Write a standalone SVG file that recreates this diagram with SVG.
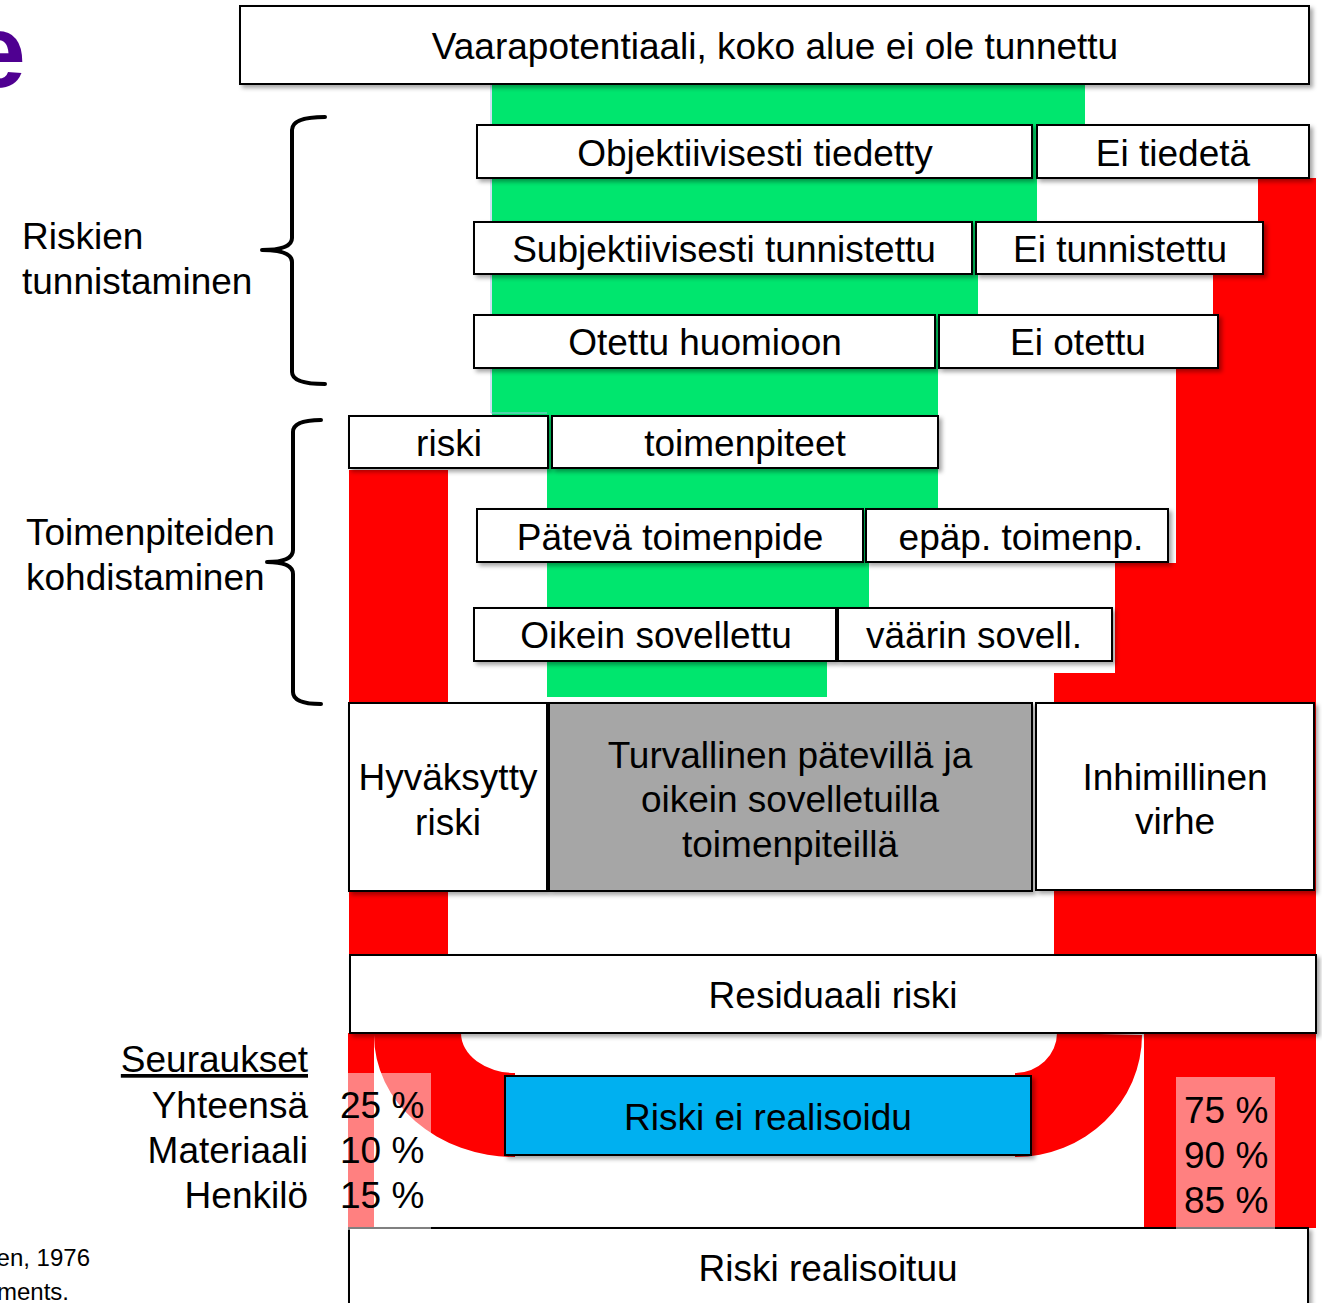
<svg xmlns="http://www.w3.org/2000/svg" width="1322" height="1303" viewBox="0 0 1322 1303">
<defs>
<filter id="sh" x="-5%" y="-10%" width="115%" height="130%">
<feDropShadow dx="3" dy="3" stdDeviation="2" flood-color="#000" flood-opacity="0.35"/>
</filter>
<style>
text{font-family:"Liberation Sans",Arial,sans-serif;font-size:37px;fill:#000}
.c{text-anchor:middle}
.e{text-anchor:end}
.box{fill:#fff;stroke:#000;stroke-width:2;filter:url(#sh)}
.red{fill:#ff0000}
.grn{fill:#00e66e}
.pink{fill:#fff;fill-opacity:0.5}
.brace{fill:none;stroke:#000;stroke-width:4;stroke-linecap:round;stroke-linejoin:round}
</style>
</defs>
<rect width="1322" height="1303" fill="#fff"/>
<text x="-32" y="87" style="font-size:104px;font-weight:bold;fill:#4f0091">e</text>
<text class="e" x="90" y="1266" style="font-size:24px">en, 1976</text>
<text class="e" x="69" y="1300" style="font-size:24px">ments.</text>

<g id="flows">
<path class="grn" d="M492 84H1085V178H1037V222H978V315H938V509H869V608H827V697H547V415H492Z"/>
<path d="M491 84V413H547" fill="none" stroke="#9dc3e6" stroke-width="1"/>
<path class="red" d="M1258 178H1316V1033H1054V673H1115V563H1176V368H1213V274H1258Z"/>
<rect class="red" x="349" y="470" width="99" height="563"/>
<path class="red" d="M348 1033H461A54 40 0 0 0 515 1073V1157A141 122 0 0 1 374 1035V1228H348Z"/>
<path class="red" d="M1057 1033A42 40 0 0 1 1015 1073V1157A127 122 0 0 0 1142 1035Z"/>
<rect class="red" x="1144" y="1033" width="172" height="195"/>
</g>

<g id="braces">
<path class="brace" d="M325 117Q292 117 292 130V238Q292 250 262 250Q292 250 292 262V372Q292 384 325 384"/>
<path class="brace" d="M321 420Q293 420 293 432V550Q293 562 267 562Q293 562 293 574V692Q293 704 321 704"/>
</g>

<g id="labels">
<text x="22" y="249">Riskien</text>
<text x="22" y="294">tunnistaminen</text>
<text x="26" y="545">Toimenpiteiden</text>
<text x="26" y="590">kohdistaminen</text>
<text class="e" x="308" y="1072" text-decoration="underline">Seuraukset</text>
<text class="e" x="308" y="1118">Yhteensä</text>
<text class="e" x="308" y="1163">Materiaali</text>
<text class="e" x="308" y="1208">Henkilö</text>
</g>

<g id="n-vaara"><rect class="box" x="240" y="6" width="1069" height="78"/><text class="c" x="775" y="59">Vaarapotentiaali, koko alue ei ole tunnettu</text></g>
<g id="n-objektiivisesti"><rect class="box" x="477" y="125" width="555" height="53"/><text class="c" x="755" y="166">Objektiivisesti tiedetty</text></g>
<g id="n-eitiedeta"><rect class="box" x="1037" y="125" width="272" height="53"/><text class="c" x="1173" y="166">Ei tiedetä</text></g>
<g id="n-subjektiivisesti"><rect class="box" x="474" y="222" width="498" height="52"/><text class="c" x="724" y="262">Subjektiivisesti tunnistettu</text></g>
<g id="n-eitunnistettu"><rect class="box" x="976" y="222" width="287" height="52"/><text class="c" x="1120" y="262">Ei tunnistettu</text></g>
<g id="n-otettu"><rect class="box" x="474" y="315" width="461" height="53"/><text class="c" x="705" y="355">Otettu huomioon</text></g>
<g id="n-eiotettu"><rect class="box" x="939" y="315" width="279" height="53"/><text class="c" x="1078" y="355">Ei otettu</text></g>
<g id="n-riski"><rect class="box" x="349" y="416" width="199" height="52"/><text class="c" x="449" y="456">riski</text></g>
<g id="n-toimenpiteet"><rect class="box" x="552" y="416" width="386" height="52"/><text class="c" x="745" y="456">toimenpiteet</text></g>
<g id="n-pateva"><rect class="box" x="477" y="509" width="386" height="53"/><text class="c" x="670" y="550">Pätevä toimenpide</text></g>
<g id="n-epap"><rect class="box" x="866" y="509" width="302" height="53"/><text class="c" x="1021" y="550">epäp. toimenp.</text></g>
<g id="n-oikein"><rect class="box" x="474" y="608" width="362" height="53"/><text class="c" x="656" y="648">Oikein sovellettu</text></g>
<g id="n-vaarin"><rect class="box" x="838" y="608" width="274" height="53"/><text class="c" x="974" y="648">väärin sovell.</text></g>
<g id="n-hyvaksytty"><rect class="box" x="349" y="703" width="198" height="188"/><text class="c" x="448" y="790">Hyväksytty</text><text class="c" x="448" y="835">riski</text></g>
<g id="n-turvallinen"><rect class="box" x="549" y="703" width="483" height="188" style="fill:#a6a6a6"/><text class="c" x="790" y="768">Turvallinen pätevillä ja</text><text class="c" x="790" y="812">oikein sovelletuilla</text><text class="c" x="790" y="857">toimenpiteillä</text></g>
<g id="n-inhimillinen"><rect class="box" x="1036" y="703" width="278" height="187"/><text class="c" x="1175" y="790">Inhimillinen</text><text class="c" x="1175" y="834">virhe</text></g>
<g id="n-residuaali"><rect class="box" x="350" y="955" width="966" height="78"/><text class="c" x="833" y="1008">Residuaali riski</text></g>
<g id="n-eirealisoidu"><rect class="box" x="505" y="1076" width="526" height="79" style="fill:#00b0f0"/><text class="c" x="768" y="1130">Riski ei realisoidu</text></g>
<g id="n-realisoituu"><rect class="box" x="349" y="1228" width="959" height="90"/><text class="c" x="828" y="1281">Riski realisoituu</text></g>

<g id="percent-left">
<rect class="pink" x="348" y="1073" width="83" height="157"/>
<text x="340" y="1118">25 %</text>
<text x="340" y="1163">10 %</text>
<text x="340" y="1208">15 %</text>
</g>
<g id="percent-right">
<rect class="pink" x="1176" y="1077" width="99" height="153"/>
<text x="1184" y="1123">75 %</text>
<text x="1184" y="1168">90 %</text>
<text x="1184" y="1213">85 %</text>
</g>
</svg>
